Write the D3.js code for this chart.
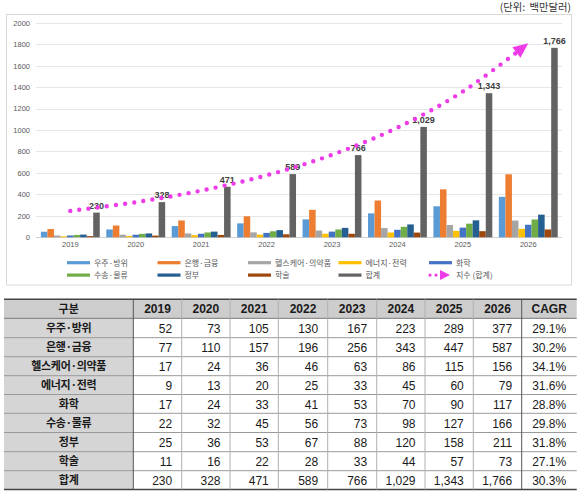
<!DOCTYPE html>
<html><head><meta charset="utf-8">
<script src="https://cdn.jsdelivr.net/npm/d3@7/dist/d3.min.js"></script>
<style>
html,body{margin:0;padding:0;background:#fff;}
svg{display:block;}
</style></head>
<body><svg id="c" width="586" height="498"></svg>
<script>
const years = ["2019","2020","2021","2022","2023","2024","2025","2026"];
const categories = ["우주·방위","은행·금융","헬스케어·의약품","에너지·전력","화학","수송·물류","정부","학술","합계"];
const space     = [52,73,105,130,167,223,289,377];
const banking   = [77,110,157,196,256,343,447,587];
const health    = [17,24,36,46,63,86,115,156];
const energy    = [9,13,20,25,33,45,60,79];
const chemical  = [17,24,33,41,53,70,90,117];
const transport = [22,32,45,56,73,98,127,166];
const government= [25,36,53,67,88,120,158,211];
const academic  = [11,16,22,28,33,44,57,73];
const total     = [230,328,471,589,766,1029,1343,1766];
const cagr      = ["29.1%","30.2%","34.1%","31.6%","28.8%","29.8%","31.8%","27.1%","30.3%"];
const trendTotal= [246,327,435,578,769,1022,1359,1808]; // exponential trend
const yTicks    = [0,200,400,600,800,1000,1200,1400,1600,1800,2000];
const trendLabel = "지수 (합계)";
const unitLabel = "(단위:  백만달러)";

const series = [space,banking,health,energy,chemical,transport,government,academic,total];
const colors = ["#5B9BD5","#ED7D31","#A5A5A5","#FFC000","#4472C4","#70AD47","#255E91","#9E480E","#636363"];
const magenta = "#ee3be8";

const svg = d3.select("#c");
const fNum = d3.format(",");

// chart frame
svg.append("rect").attr("x",6.5).attr("y",14.5).attr("width",565).attr("height",270.5)
  .attr("fill","#fff").attr("stroke","#d9d9d9").attr("stroke-width",1);

svg.append("text").attr("x",571).attr("y",11).attr("text-anchor","end")
  .style("white-space","pre")
  .attr("font-family","'Noto Sans CJK KR', sans-serif").attr("font-size",10.3).attr("fill","#333")
  .text(unitLabel);

const y = d3.scaleLinear().domain([0,2000]).range([237.3,22.7]);
const x0 = d3.scaleBand().domain(years).range([37.6,561]).paddingInner(0).paddingOuter(0);
const bw = x0.bandwidth();
const x1 = d3.scaleBand().domain(categories).range([bw*0.05,bw*0.95]).padding(0);

// gridlines
const grid = svg.append("g");
grid.selectAll("line").data(yTicks).join("line")
  .attr("x1",36).attr("x2",562)
  .attr("y1",d=>Math.round(y(d))+0.5).attr("y2",d=>Math.round(y(d))+0.5)
  .attr("stroke",d=>d===0?"#d0d0d0":"#e6e6e6").attr("stroke-width",1);

// y axis labels
const yAxis = svg.append("g").attr("transform","translate(30,0)")
  .call(d3.axisLeft(y).tickValues(yTicks).tickFormat(d3.format("d")).tickSize(0).tickPadding(0));
yAxis.select(".domain").remove();
yAxis.selectAll("text").attr("font-family","'Liberation Sans', Arial, sans-serif")
  .attr("font-size",7.5).attr("fill","#595959");

// x axis labels
const xAxis = svg.append("g").attr("transform","translate(0,242)")
  .call(d3.axisBottom(x0).tickSize(0).tickPadding(0));
xAxis.select(".domain").remove();
xAxis.selectAll("text").attr("font-family","'Liberation Sans', Arial, sans-serif")
  .attr("font-size",7.5).attr("fill","#595959");

// bars
const groups = svg.append("g").selectAll("g").data(years).join("g")
  .attr("transform",d=>`translate(${x0(d)},0)`);
groups.each(function(yr,i){
  d3.select(this).selectAll("rect").data(categories).join("rect")
    .attr("x",c=>x1(c)).attr("width",x1.bandwidth())
    .attr("y",(c,k)=>y(series[k][i])).attr("height",(c,k)=>y(0)-y(series[k][i]))
    .attr("fill",(c,k)=>colors[k]);
});

// total labels
svg.append("g").selectAll("text").data(years).join("text")
  .attr("x",(d)=>x0(d)+x1("합계")+x1.bandwidth()/2)
  .attr("y",(d,i)=>y(total[i])-4)
  .attr("text-anchor","middle")
  .attr("font-family","'Liberation Sans', Arial, sans-serif").attr("font-weight","bold")
  .attr("font-size",9).attr("fill","#404040")
  .text((d,i)=>fNum(total[i]));

// trend line (dotted) with arrow
const pts = years.map((d,i)=>[x0(d)+bw/2, y(trendTotal[i])]);
const line = d3.line().curve(d3.curveCatmullRom);
const tp = svg.append("path").attr("d",line(pts)).attr("fill","none")
  .attr("stroke",magenta).attr("stroke-width",4.4).attr("stroke-linecap","round")
  .attr("stroke-dasharray","0 9.2");
const L = tp.node().getTotalLength();
const tip = tp.node().getPointAtLength(L);
const back = tp.node().getPointAtLength(L-15);
const dx = tip.x-back.x, dy = tip.y-back.y, dl = Math.hypot(dx,dy);
const ux = dx/dl, uy = dy/dl;
const bx = tip.x-ux*15, by = tip.y-uy*15;
svg.append("path").attr("fill",magenta)
  .attr("d",`M${tip.x},${tip.y}L${bx-uy*6.5},${by+ux*6.5}L${bx+uy*6.5},${by-ux*6.5}Z`);

// legend
const legendItems = categories.map((c,k)=>({label:c,color:colors[k],type:"bar"}))
  .concat([{label:trendLabel,color:magenta,type:"trend"}]);
const lg = svg.append("g");
legendItems.forEach((it,i)=>{
  const col = i%5, row = Math.floor(i/5);
  const lx = 67 + col*90.5, ly = 262.7 + row*12.4;
  const g = lg.append("g").attr("transform",`translate(${lx},${ly})`);
  if(it.type==="bar"){
    g.append("rect").attr("x",0).attr("y",-1.6).attr("width",23).attr("height",3.2).attr("fill",it.color);
  } else {
    g.append("circle").attr("cx",1).attr("cy",0).attr("r",1.6).attr("fill",it.color);
    g.append("circle").attr("cx",7).attr("cy",0).attr("r",1.6).attr("fill",it.color);
    g.append("path").attr("d","M11,-5L21,0L11,5Z").attr("fill",it.color);
  }
  g.append("text").attr("x",27).attr("y",3).attr("font-family","'Noto Sans CJK KR', sans-serif")
    .attr("font-size",8).attr("fill","#595959").text(it.label);
});

// table
const colEdges = [4,133.3,181.7,230,278.3,327.7,376.7,425,473.3,521.7,576.7];
const rowEdges = [299.3,318.3,337.7,356.7,375.7,394.5,413.3,432.5,451.7,470.7,489.5];
const tbl = svg.append("g");
tbl.append("rect").attr("x",colEdges[0]).attr("y",rowEdges[0]).attr("width",colEdges[10]-colEdges[0])
  .attr("height",rowEdges[1]-rowEdges[0]).attr("fill","#cdcdcd");
tbl.append("rect").attr("x",colEdges[0]).attr("y",rowEdges[1]).attr("width",colEdges[1]-colEdges[0])
  .attr("height",rowEdges[10]-rowEdges[1]).attr("fill","#d5d5d5");
rowEdges.forEach((ry,i)=>{
  const outer = (i===0||i===10);
  tbl.append("line").attr("x1",colEdges[0]).attr("x2",colEdges[10]).attr("y1",ry).attr("y2",ry)
    .attr("stroke",outer?"#444":(i===1?"#777":"#9a9a9a")).attr("stroke-width",outer?1.5:1);
});
colEdges.slice(1,10).forEach((cx,i)=>{
  const strong = (i===0||i===8);
  tbl.append("line").attr("x1",cx).attr("x2",cx).attr("y1",rowEdges[0]).attr("y2",rowEdges[10])
    .attr("stroke",strong?"#555":"#b0b0b0").attr("stroke-width",1);
});
const headers = ["구분"].concat(years).concat(["CAGR"]);
headers.forEach((h,j)=>{
  tbl.append("text").attr("x",(colEdges[j]+colEdges[j+1])/2).attr("y",rowEdges[0]+14)
    .attr("text-anchor","middle")
    .attr("font-family", j===0?"'Noto Sans CJK KR', sans-serif":"'Liberation Sans', Arial, sans-serif")
    .attr("font-weight","bold").attr("font-size",j===0?11:12).attr("fill","#1a1a1a").text(h);
});
categories.forEach((c,r)=>{
  const ry = rowEdges[r+1]+14.2;
  tbl.append("text").attr("x",(colEdges[0]+colEdges[1])/2).attr("y",ry-0.5).attr("text-anchor","middle")
    .attr("font-family","'Noto Sans CJK KR', sans-serif").attr("font-weight","bold")
    .attr("font-size",11).attr("letter-spacing",-0.3).attr("fill","#1a1a1a").text(c);
  series[r].forEach((v,j)=>{
    tbl.append("text").attr("x",colEdges[j+2]-9.5).attr("y",ry).attr("text-anchor","end")
      .attr("font-family","'Liberation Sans', Arial, sans-serif").attr("font-size",12)
      .attr("fill","#1a1a1a").text(fNum(v));
  });
  tbl.append("text").attr("x",(colEdges[9]+colEdges[10])/2).attr("y",ry).attr("text-anchor","middle")
    .attr("font-family","'Liberation Sans', Arial, sans-serif").attr("font-size",12)
    .attr("fill","#1a1a1a").text(cagr[r]);
});
</script></body></html>
